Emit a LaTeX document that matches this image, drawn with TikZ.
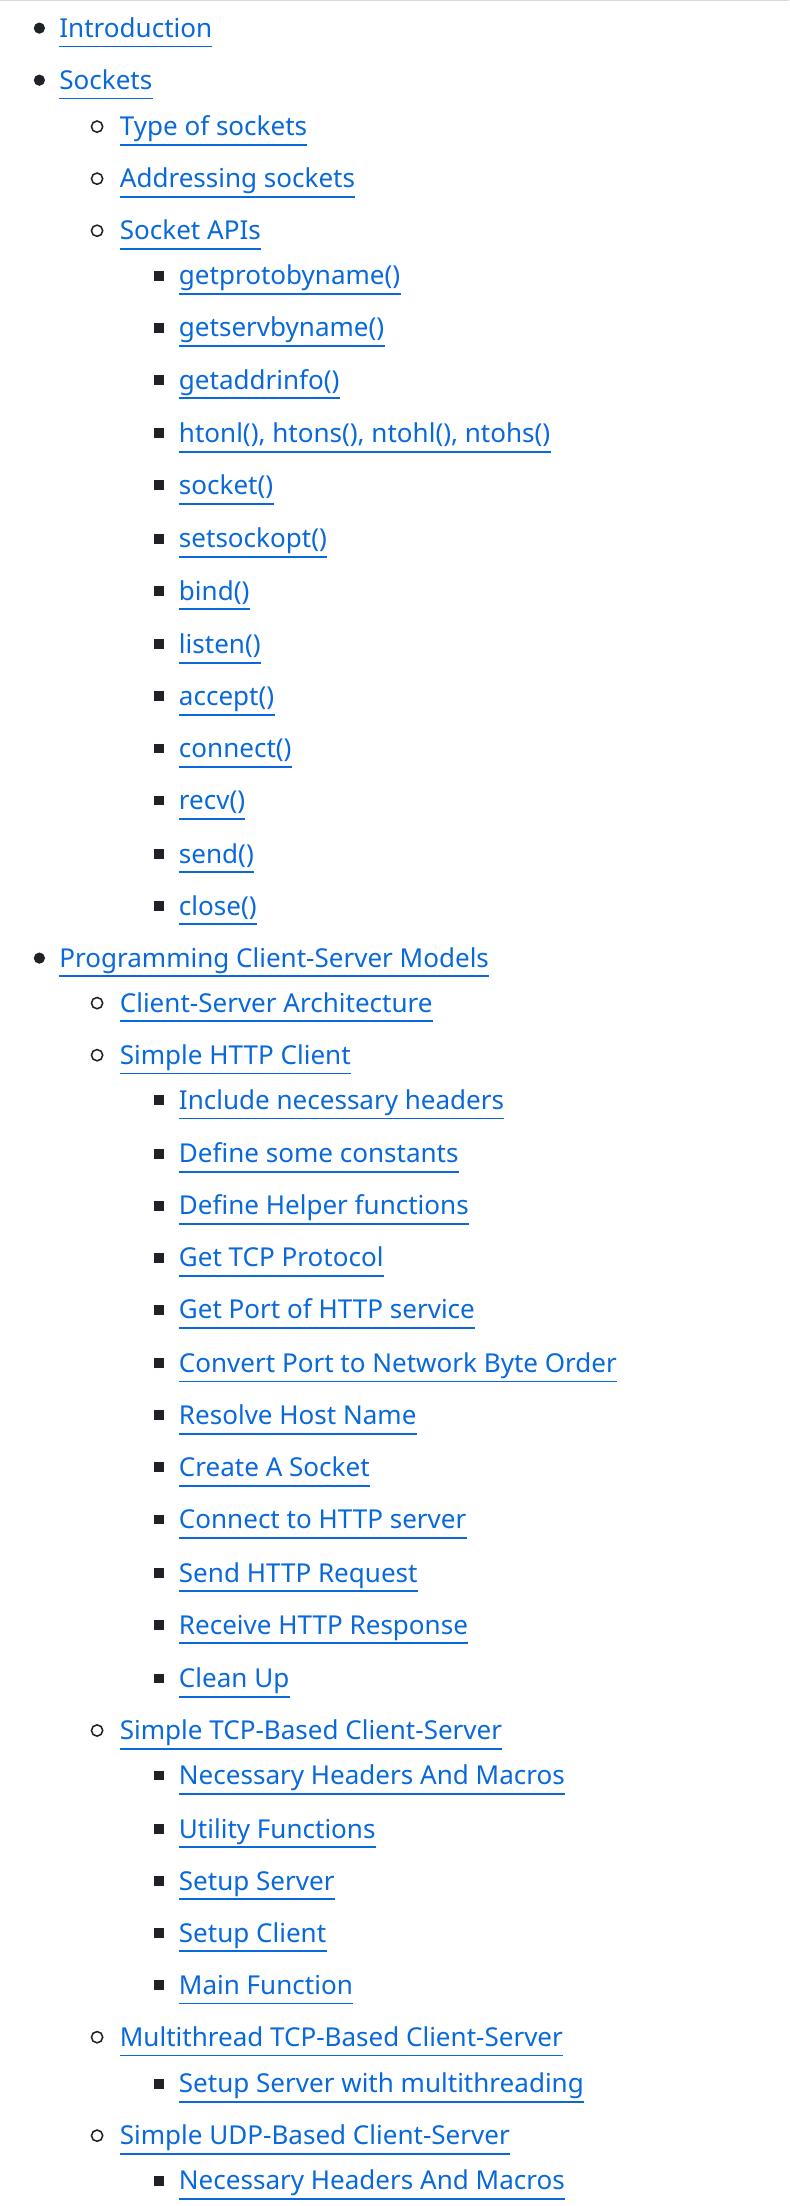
\documentclass[tikz,border=0pt]{standalone}
\usepackage{fontspec}
\setmainfont{Noto Sans}
\definecolor{link}{HTML}{0969DA}
\definecolor{txt}{HTML}{1F2328}
\newcommand{\tocent}[4]{%
  \ifcase#1\or
    \fill[txt] (28,-#2) circle (4);\def\tx{42}%
  \or
    \draw[txt,line width=1.1] (69,-#2) circle (4);\def\tx{85}%
  \or
    \fill[txt] (109.5,-#2-3.5) rectangle ++(7,7);\def\tx{127}%
  \fi
  \node[entry] (#3) at (\tx,-#2-6.5) {#4};
  \draw[link,line width=1.3] ([yshift=-6.5]#3.base west) -- ([yshift=-6.5]#3.base east);
}
\begin{document}
\begin{tikzpicture}[x=1pt,y=1pt,
  entry/.style={anchor=base west,inner sep=0pt,text=link,font=\fontsize{18.5}{20}\selectfont}]
\useasboundingbox (0,0) rectangle (561,-1568);
\draw[gray!30,line width=1] (0,-0.5) -- (561,-0.5);
\tocent{1}{20}{a1}{Introduction}
\tocent{1}{57}{a2}{Sockets}
\tocent{2}{90}{a3}{Type of sockets}
\tocent{2}{127}{a4}{Addressing sockets}
\tocent{2}{164}{a5}{Socket APIs}
\tocent{3}{196}{a6}{getprotobyname()}
\tocent{3}{233}{a7}{getservbyname()}
\tocent{3}{270}{a8}{getaddrinfo()}
\tocent{3}{308}{a9}{htonl(), htons(), ntohl(), ntohs()}
\tocent{3}{345}{a10}{socket()}
\tocent{3}{383}{a11}{setsockopt()}
\tocent{3}{420}{a12}{bind()}
\tocent{3}{458}{a13}{listen()}
\tocent{3}{495}{a14}{accept()}
\tocent{3}{532}{a15}{connect()}
\tocent{3}{569}{a16}{recv()}
\tocent{3}{607}{a17}{send()}
\tocent{3}{644}{a18}{close()}
\tocent{1}{681}{a19}{Programming Client-Server Models}
\tocent{2}{713}{a20}{Client-Server Architecture}
\tocent{2}{750}{a21}{Simple HTTP Client}
\tocent{3}{782}{a22}{Include necessary headers}
\tocent{3}{820}{a23}{Define some constants}
\tocent{3}{857}{a24}{Define Helper functions}
\tocent{3}{894}{a25}{Get TCP Protocol}
\tocent{3}{931}{a26}{Get Port of HTTP service}
\tocent{3}{969}{a27}{Convert Port to Network Byte Order}
\tocent{3}{1006}{a28}{Resolve Host Name}
\tocent{3}{1043}{a29}{Create A Socket}
\tocent{3}{1080}{a30}{Connect to HTTP server}
\tocent{3}{1118}{a31}{Send HTTP Request}
\tocent{3}{1155}{a32}{Receive HTTP Response}
\tocent{3}{1193}{a33}{Clean Up}
\tocent{2}{1230}{a34}{Simple TCP-Based Client-Server}
\tocent{3}{1262}{a35}{Necessary Headers And Macros}
\tocent{3}{1300}{a36}{Utility Functions}
\tocent{3}{1337}{a37}{Setup Server}
\tocent{3}{1374}{a38}{Setup Client}
\tocent{3}{1411}{a39}{Main Function}
\tocent{2}{1448}{a40}{Multithread TCP-Based Client-Server}
\tocent{3}{1481}{a41}{Setup Server with multithreading}
\tocent{2}{1518}{a42}{Simple UDP-Based Client-Server}
\tocent{3}{1550}{a43}{Necessary Headers And Macros}
\end{tikzpicture}
\end{document}
